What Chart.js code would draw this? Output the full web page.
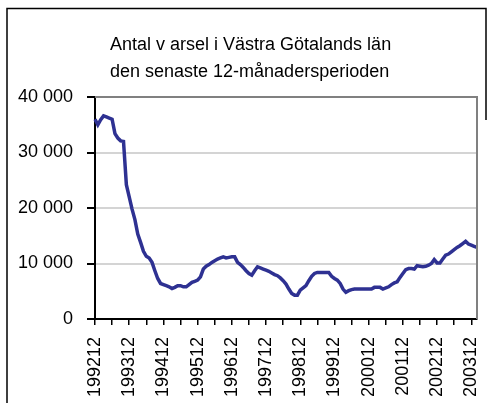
<!DOCTYPE html>
<html>
<head>
<meta charset="utf-8">
<script src="https://cdn.jsdelivr.net/npm/chart.js@4"></script>
<style>
  body { margin: 0; background: #fff; }
</style>
</head>
<body>
<canvas id="grafico" width="494" height="403"></canvas>
<script>
// antal varsel, rullande 12 månader, från 199212 (månadsvis)
const startYear = 1992;
const startMonth = 12;
const varsel = [
  36000, 35000, 35900, 36600, 36400, 36200, 36000, 33400, 32600, 32100,
  32000, 24200, 22000, 19800, 17900, 15300, 13800, 12200, 11300, 11000,
  10200, 8700, 7300, 6400, 6200, 6000, 5800, 5500, 5700, 6000,
  6000, 5800, 5800, 6200, 6600, 6800, 7000, 7600, 9000, 9500,
  9800, 10200, 10500, 10800, 11000, 11200, 11000, 11100, 11200, 11200,
  10200, 9800, 9300, 8700, 8200, 7900, 8700, 9400, 9200, 9000,
  8800, 8600, 8300, 8000, 7800, 7400, 6900, 6300, 5400, 4600,
  4300, 4300, 5200, 5600, 6000, 6900, 7700, 8200, 8400, 8400,
  8400, 8400, 8400, 7700, 7300, 7000, 6400, 5400, 4800, 5100,
  5300, 5400, 5400, 5400, 5400, 5400, 5400, 5400, 5700, 5700,
  5700, 5400, 5600, 5800, 6200, 6500, 6700, 7500, 8200, 8900,
  9100, 9100, 9000, 9600, 9500, 9400, 9500, 9700, 10000, 10700,
  10100, 10100, 10800, 11500, 11700, 12100, 12500, 12900, 13200, 13600,
  14000, 13500, 13300, 13100, 12900
];
const tickLabels = ['199212', '199312', '199412', '199512', '199612', '199712',
  '199812', '199912', '200012', '200112', '200212', '200312'];
const yTicks = [0, 10000, 20000, 30000, 40000];
const titel = ['Antal v arsel i Västra Götalands län', 'den senaste 12-månadersperioden'];

const manader = [];
for (let i = 0; i < varsel.length; i++) {
  const m = startMonth - 1 + i;
  const y = startYear + Math.floor(m / 12);
  manader.push(String(y) + String(m % 12 + 1).padStart(2, '0'));
}

const font = { family: 'Liberation Sans, Arial, sans-serif', size: 18 };

const ramar = {
  id: 'ramar',
  beforeDraw(chart) {
    const c = chart.ctx;
    c.save();
    c.fillStyle = '#fff';
    c.fillRect(0, 0, chart.width, chart.height);
    c.strokeStyle = '#000';
    c.lineWidth = 1.5;
    c.beginPath();
    c.moveTo(7, 403);
    c.lineTo(7, 8.5);
    c.lineTo(486, 8.5);
    c.lineTo(486, 120);
    c.stroke();
    c.restore();
  },
  afterDatasetsDraw(chart) {
    const c = chart.ctx;
    const a = chart.chartArea;
    c.save();
    c.strokeStyle = '#808080';
    c.lineWidth = 2;
    c.beginPath();
    c.moveTo(a.left, a.top);
    c.lineTo(a.right, a.top);
    c.lineTo(a.right, a.bottom);
    c.stroke();
    c.fillStyle = '#000';
    c.font = '18px ' + font.family;
    c.textBaseline = 'middle';
    c.textAlign = 'left';
    c.fillText(titel[0], 110, 45);
    c.fillText(titel[1], 110, 72);
    c.restore();
  }
};

new Chart(document.getElementById('grafico'), {
  type: 'line',
  data: {
    labels: manader,
    datasets: [{
      data: varsel,
      borderColor: '#2e3192',
      borderWidth: 3.5,
      pointRadius: 0,
      tension: 0,
      fill: false
    }]
  },
  options: {
    responsive: false,
    devicePixelRatio: 1,
    animation: false,
    layout: { padding: { top: 97, right: 17, left: 0, bottom: 0 } },
    plugins: { legend: { display: false }, tooltip: { enabled: false }, title: { display: false } },
    scales: {
      x: {
        afterFit(scale) {
          scale.height = 84;
          scale.paddingLeft = 0;
          scale.paddingRight = 0;
        },
        border: { color: '#000', width: 2 },
        grid: {
          drawOnChartArea: false,
          tickLength: 6,
          tickColor: ctx => (ctx.index % 6 === 0 ? '#000' : 'rgba(0,0,0,0)'),
          lineWidth: 1.5
        },
        ticks: {
          autoSkip: false,
          maxRotation: 90,
          minRotation: 90,
          padding: 12,
          color: '#000',
          font: font,
          callback: function (v, i) {
            const l = this.getLabelForValue(v);
            return tickLabels.includes(l) ? l : '';
          }
        }
      },
      y: {
        min: 0,
        max: 40000,
        afterFit(scale) {
          scale.width = 95;
          scale.paddingTop = 0;
          scale.paddingBottom = 0;
        },
        afterBuildTicks(scale) { scale.ticks = yTicks.map(v => ({ value: v })); },
        border: { color: '#000', width: 2 },
        grid: {
          color: ctx => (ctx.tick && ctx.tick.value === 40000 ? '#808080' : '#d4d4d4'),
          lineWidth: 2,
          tickLength: 8,
          tickColor: '#000'
        },
        ticks: {
          padding: 14,
          color: '#000',
          font: font,
          callback: v => String(v).replace(/\B(?=(\d{3})+(?!\d))/g, ' ')
        }
      }
    }
  },
  plugins: [ramar]
});
</script>
</body>
</html>
